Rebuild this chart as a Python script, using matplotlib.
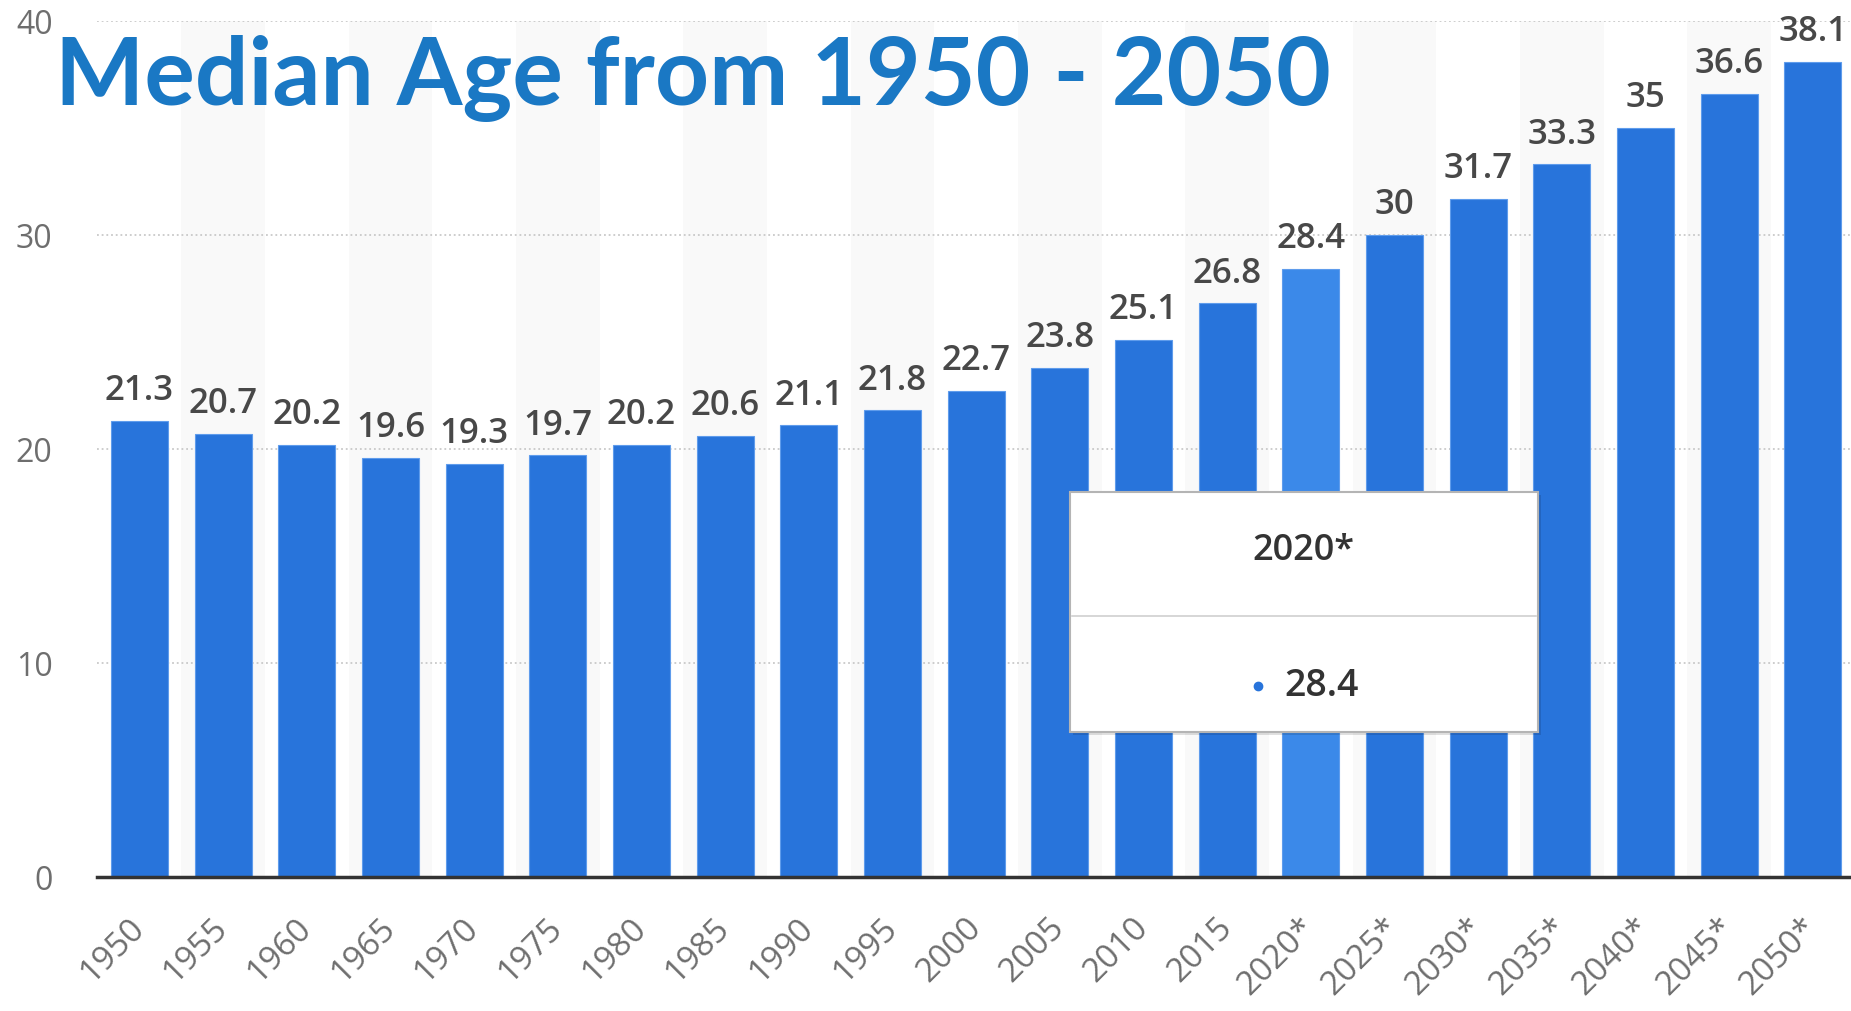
# -*- coding: utf-8 -*-
import numpy as np
import matplotlib
matplotlib.use("Agg")
import matplotlib.pyplot as plt
from matplotlib.patches import Rectangle
from matplotlib.lines import Line2D
from matplotlib import transforms

# data
years = ["1950", "1955", "1960", "1965", "1970", "1975", "1980", "1985", "1990", "1995",
         "2000", "2005", "2010", "2015", "2020*", "2025*", "2030*", "2035*", "2040*",
         "2045*", "2050*"]
median_age = [21.3, 20.7, 20.2, 19.6, 19.3, 19.7, 20.2, 20.6, 21.1, 21.8,
              22.7, 23.8, 25.1, 26.8, 28.4, 30, 31.7, 33.3, 35, 36.6, 38.1]
y_ticks = [0, 10, 20, 30, 40]
highlight = "2020*"
title = "Median Age from 1950 - 2050"

W, H = 1851, 1011


def main():
    fig = plt.figure(figsize=(W / 100, H / 100), dpi=100)
    ax = fig.add_axes([97 / W, 1 - 877 / H, 1 - 97 / W, (877 - 21) / H])

    x = np.arange(len(years))
    # alternate light stripes behind every other category
    for i in x[1::2]:
        ax.axvspan(i - 0.5, i + 0.5, color="#f9f9f9", zorder=0, lw=0)

    colors = ["#3b89e9" if y == highlight else "#2874db" for y in years]
    ax.bar(x, median_age, width=0.68, color=colors, edgecolor="#5f9cec",
           linewidth=0.8, zorder=3)

    for i, v in zip(x, median_age):
        ax.annotate(f"{v:g}", (i, v), xytext=(0, 15), textcoords="offset points",
                    ha="center", va="baseline", fontsize=25, color="#484848",
                    family="Open Sans", weight="semibold", zorder=4,
                    annotation_clip=False)

    ax.set_xlim(-0.508, 20.455)
    ax.set_ylim(0, 40)

    ax.set_yticks(y_ticks)
    ax.set_yticklabels([str(t) for t in y_ticks])
    for t in y_ticks[1:]:
        ax.axhline(t, color="#c9c9c9", lw=1.3, ls=(0, (1, 1.6)), zorder=1)

    ax.set_xticks(x)
    ax.set_xticklabels(years, rotation=45, ha="right", va="center",
                       rotation_mode="anchor")
    offset = transforms.ScaledTranslation(-5 / 100, 0, fig.dpi_scale_trans)
    for lab in ax.get_xticklabels():
        lab.set_transform(lab.get_transform() + offset)

    ax.tick_params(axis="x", length=0, pad=33, labelsize=24, labelcolor="#6e6e6e")
    ax.tick_params(axis="y", length=0, pad=32, labelsize=23, labelcolor="#6e6e6e")
    for lab in ax.get_xticklabels() + ax.get_yticklabels():
        lab.set_family("Open Sans")

    for s in ["left", "right", "top"]:
        ax.spines[s].set_visible(False)
    ax.spines["bottom"].set_color("#333333")
    ax.spines["bottom"].set_linewidth(2.5)
    ax.spines["bottom"].set_zorder(5)

    # title
    fig.text(55 / W, 1 - 105 / H, title, ha="left", va="baseline", fontsize=68,
             family="Lato", weight="bold", color="#1a78c4")

    # tooltip box
    k = median_age[years.index(highlight)]
    bx0, by0, bx1, by1 = 1070, 492, 1538, 732
    fig.add_artist(Rectangle(((bx0 + 3) / W, 1 - (by1 + 3) / H), (bx1 - bx0) / W,
                             (by1 - by0) / H, transform=fig.transFigure,
                             facecolor="#000000", alpha=0.12, lw=0, zorder=8))
    fig.add_artist(Rectangle((bx0 / W, 1 - by1 / H), (bx1 - bx0) / W, (by1 - by0) / H,
                             transform=fig.transFigure, facecolor="white",
                             edgecolor="#b4b4b4", lw=1.5, zorder=9))
    fig.add_artist(Line2D([(bx0 + 2) / W, (bx1 - 2) / W], [1 - 616 / H, 1 - 616 / H],
                          transform=fig.transFigure, color="#d0d0d0", lw=1.2, zorder=10))
    fig.text(1303 / W, 1 - 551 / H, highlight, ha="center", va="center", fontsize=26,
             family="Open Sans", weight="semibold", color="#333333", zorder=11)
    fig.add_artist(Line2D([1258 / W], [1 - 686 / H], marker="o", ms=6, color="#2874db",
                          transform=fig.transFigure, zorder=11))
    fig.text(1284 / W, 1 - 686 / H, f"{k:g}", ha="left", va="center", fontsize=27,
             family="Open Sans", weight="semibold", color="#333333", zorder=11)

    fig.savefig("out.png", dpi=100)


if __name__ == "__main__":
    main()
